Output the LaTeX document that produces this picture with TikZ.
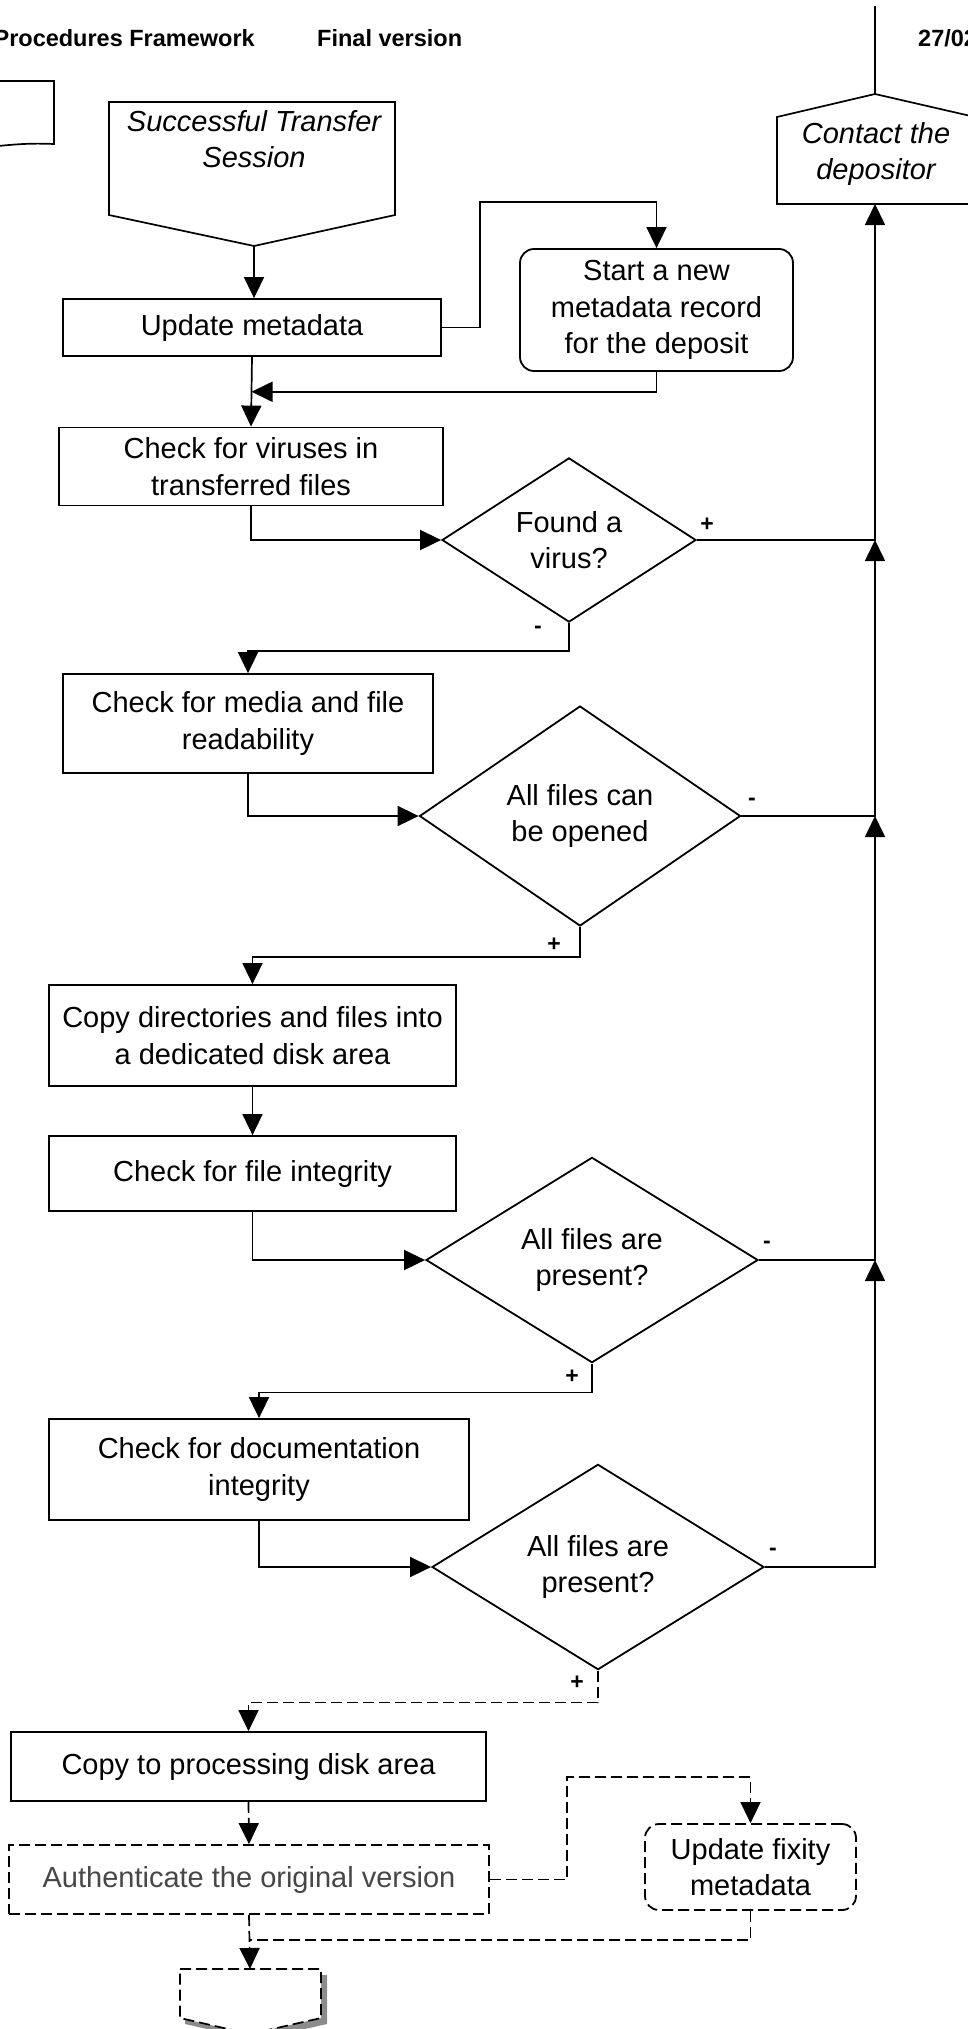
\documentclass[tikz,border=0pt]{standalone}
\usepackage{fontspec}
\setmainfont{Liberation Sans}
\usetikzlibrary{arrows.meta,calc,shapes.geometric}

\tikzset{
	stepbox/.style={draw, line width=1.8pt, align=center, inner sep=0pt},
	roundbox/.style={stepbox, rounded corners=14pt},
	decision/.style={draw, diamond, line width=1.8pt, align=center, inner sep=0pt},
	arr/.style={line width=1.7pt, -{Triangle[length=21pt,width=20pt]}},
	link/.style={line width=1.7pt},
	dashline/.style={dash pattern=on 11pt off 5pt},
	sign/.style={font=\fontsize{23}{23}\bfseries\selectfont, inner sep=0pt},
	hdr/.style={font=\fontsize{23.5}{28}\bfseries\selectfont, inner sep=0pt}
}

\begin{document}
\begin{tikzpicture}[x=1pt, y=-1pt, font=\fontsize{29}{36.5}\selectfont]
			%%%%% START %%%%%
			\useasboundingbox (0,0) rectangle (968,2029);
			
			\node[hdr, anchor=east] (hdrproc) at (255,38) {Procedures Framework};
			\node[hdr, anchor=west] (hdrfinal) at (317,38) {Final version};
			\node[hdr, anchor=west] (hdrdate) at (918,38) {27/02};
			
			% pieces from the page before
			\draw[link] (-20,81) -- (54,81) -- (54,144) .. controls (30,143) and (15,144) .. (-20,148);
			\draw[link] (875,6) -- (875,94);
			
			% off-page connectors
			\draw[link] (109,102) -- (395,102) -- (395,215) -- (254,246) -- (109,215) -- cycle;
			\coordinate (sts) at (254,246);
			\node[font=\fontsize{29}{36.5}\itshape\selectfont, align=center] (ststext) at (254,139) {Successful Transfer\\Session};
			
			\draw[link] (777,204) -- (777,117) -- (875,94) -- (975,117) -- (975,204) -- cycle;
			\coordinate (cont) at (875,204);
			\node[font=\fontsize{29}{36.5}\itshape\selectfont, align=center] (conttext) at (876,154) {Contact the\\depositor};
			
			% boxes
			\node[stepbox, minimum width=378pt, minimum height=57pt] (upd) at (252,327.5) {Update metadata};
			\node[roundbox, minimum width=273pt, minimum height=122pt] (newrec) at (656.5,310) {Start a new\\metadata record\\for the deposit};
			\node[stepbox, minimum width=384pt, minimum height=78pt] (virus) at (251,466.5) {Check for viruses in\\transferred files};
			\node[decision, minimum width=254pt, minimum height=154pt] (vdec) at (569,540) {Found a\\virus?};
			\node[stepbox, minimum width=370pt, minimum height=99pt] (media) at (248,723.5) {Check for media and file\\readability};
			\node[decision, minimum width=321pt, minimum height=220pt] (odec) at (580,816) {All files can\\be opened};
			\node[stepbox, minimum width=407pt, minimum height=101pt] (copydir) at (252.5,1035.5) {Copy directories and files into\\a dedicated disk area};
			\node[stepbox, minimum width=407pt, minimum height=75pt] (integ) at (252.5,1173.5) {Check for file integrity};
			\node[decision, minimum width=332pt, minimum height=199pt] (pdec1) at (592,1260) {All files are\\present?};
			\node[stepbox, minimum width=420pt, minimum height=101pt] (docint) at (259,1469.5) {Check for documentation\\integrity};
			\node[decision, minimum width=332pt, minimum height=200pt] (pdec2) at (598,1567) {All files are\\present?};
			\node[stepbox, minimum width=475pt, minimum height=69pt] (proc) at (248.5,1766.5) {Copy to processing disk area};
			\node[stepbox, dashline, minimum width=480pt, minimum height=69pt, text=black!72] (auth) at (249,1879.5) {Authenticate the original version};
			\node[roundbox, dashline, minimum width=211pt, minimum height=86pt] (fixity) at (750.5,1867) {Update fixity\\metadata};
			
			% exit connector, with its shadow
			\fill[black!45] (185,1975) -- (327,1975) -- (327,2024) -- (256,2040) -- (185,2024) -- cycle;
			\draw[link, dashline, fill=white] (180,1969) -- (321,1969) -- (321,2018) -- (250,2034) -- (180,2018) -- cycle;
			\coordinate (exit) at (250,1969);
			
			% flow
			\draw[arr] (sts) -- (sts |- upd.north);
			\draw[arr] (upd.east) -| (480,202) -| (newrec.north);
			\draw[arr] (newrec.south) |- ($(upd.south)!0.5!(virus.north)$);
			\draw[arr] (upd.south) -- (virus.north);
			\draw[arr] (virus.south) |- (vdec.west);
			\draw[arr] (vdec.south) -- ++(0,28) -| (media.north);
			\draw[arr] (media.south) |- (odec.west);
			\draw[arr] (odec.south) -- ++(0,30) -| (copydir.north);
			\draw[arr] (copydir.south) -- (integ.north);
			\draw[arr] (integ.south) |- (pdec1.west);
			\draw[arr] (pdec1.south) -- ++(0,29) -| (docint.north);
			\draw[arr] (docint.south) |- (pdec2.west);
			
			% back to the depositor
			\draw[arr] (pdec2.east) -| (pdec1.east -| cont);
			\draw[arr] (pdec1.east) -| (odec.east -| cont);
			\draw[arr] (odec.east) -| (vdec.east -| cont);
			\draw[arr] (vdec.east) -| (cont);
			
			% dashed part
			\draw[arr, dashline] (pdec2.south) -- ++(0,32) -| (proc.north);
			\draw[arr, dashline] (proc.south) -- (auth.north);
			\draw[arr, dashline] (auth.east) -| (567,1777) -| (fixity.north);
			\draw[arr, dashline] (auth.south) -- (exit);
			\draw[link, dashline] (fixity.south) |- (exit |- 0,1940);
			
			% signs
			\node[sign] (s1) at (707,525) {+};
			\node[sign] (s2) at (538,630) {-};
			\node[sign] (s3) at (752,802) {-};
			\node[sign] (s4) at (554,945) {+};
			\node[sign] (s5) at (767,1245) {-};
			\node[sign] (s6) at (572,1377) {+};
			\node[sign] (s7) at (773,1552) {-};
			\node[sign] (s8) at (577,1683) {+};
			
			%%%%% END %%%%%
\end{tikzpicture}
\end{document}
